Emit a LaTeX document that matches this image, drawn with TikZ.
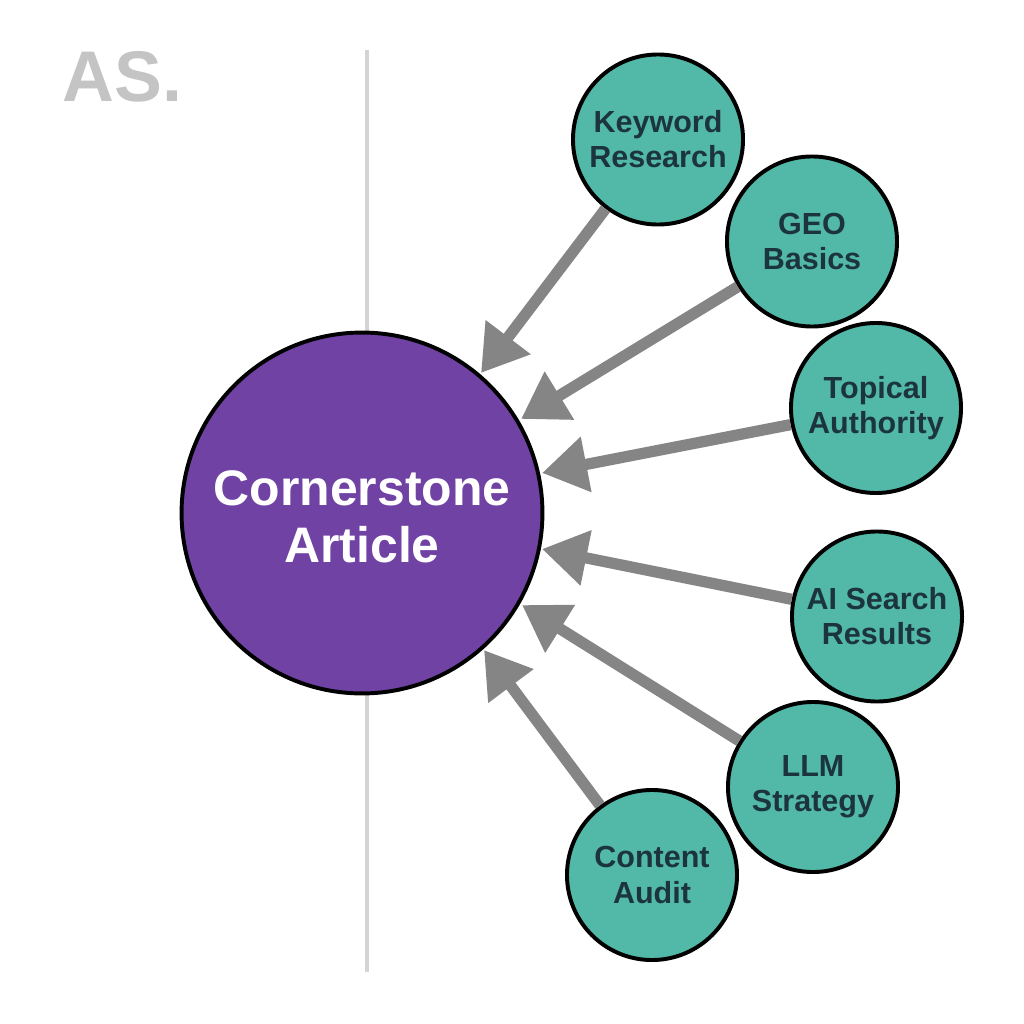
\documentclass[tikz,border=0pt]{standalone}
\usepackage{fontspec}
\setmainfont{Liberation Sans}
\usetikzlibrary{arrows.meta, positioning, calc}
\definecolor{hubviolet}{RGB}{112,66,163}
\definecolor{spoketeal}{RGB}{82,184,168}
\definecolor{spoketext}{RGB}{28,52,62}
\definecolor{linkgray}{RGB}{133,133,133}
\definecolor{rulegray}{RGB}{212,212,212}
\definecolor{markgray}{RGB}{196,196,196}
\tikzset{
	every text node part/.style = {align=center},
	hub/.style = {circle, draw=black, line width=2.8pt, fill=hubviolet, text=white, minimum size=9.02cm, inner sep=0pt, font=\fontsize{35.5}{41}\selectfont\bfseries},
	spoke/.style = {circle, draw=black, line width=2.8pt, fill=spoketeal, text=spoketext, minimum size=4.25cm, inner sep=0pt, font=\fontsize{21.7}{25}\selectfont\bfseries},
	link/.style = {draw=linkgray, line width=8pt, -{Triangle[length=32pt,width=38pt]}}
}
\begin{document}
\begin{tikzpicture}[x=0.025cm,y=-0.025cm]
	\useasboundingbox (0,0) rectangle (1024,1024);
	\fill[white] (0,0) rectangle (1024,1024);
	\draw [rulegray, line width=2.4pt] (367,50) -- (367,972);

	\node [hub] (article) at (362,513) {\rule{0pt}{30pt}Cornerstone\\Article};
	\node [spoke] (keyword) at (658,139.5) {Keyword\\Research};
	\node [spoke] (geo) at (812,241.5) {GEO\\Basics};
	\node [spoke] (topical) at (876,408) {Topical\\Authority};
	\node [spoke] (aisearch) at (877,616.5) {AI Search\\Results};
	\node [spoke] (llm) at (813,787) {LLM\\Strategy};
	\node [spoke] (audit) at (652,875) {Content\\Audit};

	\node [font=\fontsize{51}{55}\selectfont\bfseries, text=markgray, anchor=west] (mark) at (58,77) {AS.};

	\coordinate (keywordtip) at (481,373);
	\coordinate (geotip) at (521,419);
	\coordinate (topicaltip) at (542,473);
	\coordinate (aisearchtip) at (542,549);
	\coordinate (llmtip) at (522,605);
	\coordinate (audittip) at (484,650);

	\draw [link] (keyword) -- (keywordtip);
	\draw [link] (geo) -- (geotip);
	\draw [link] (topical) -- (topicaltip);
	\draw [link] (aisearch) -- (aisearchtip);
	\draw [link] (llm) -- (llmtip);
	\draw [link] (audit) -- (audittip);
\end{tikzpicture}
\end{document}
